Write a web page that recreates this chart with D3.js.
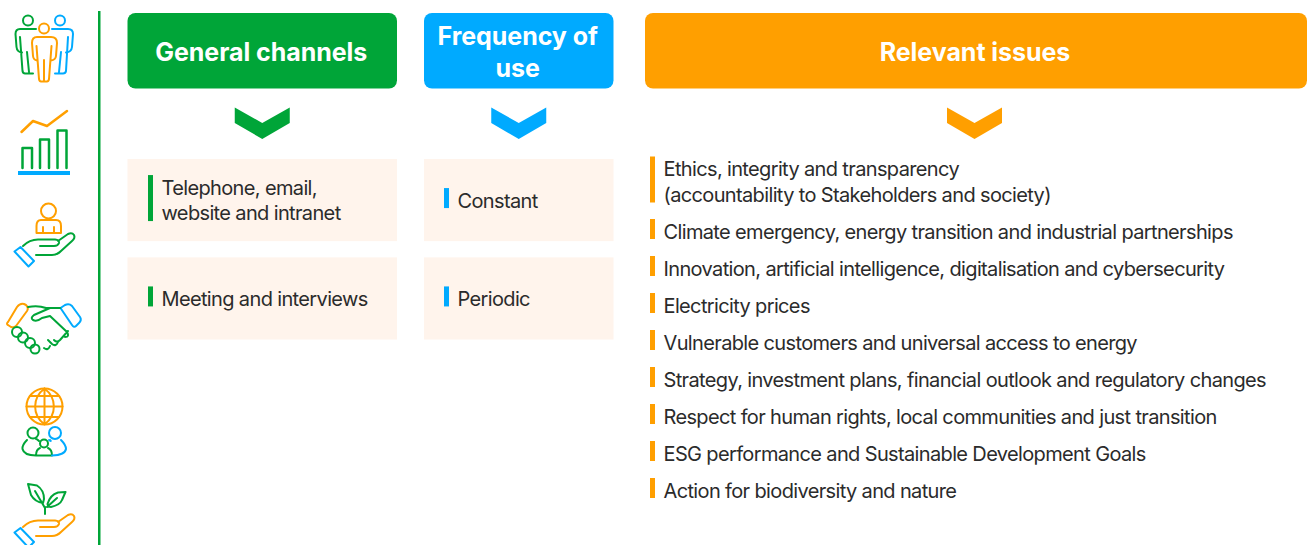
<!DOCTYPE html>
<html>
<head>
<meta charset="utf-8">
<script src="https://cdn.jsdelivr.net/npm/d3@7"></script>
<style>
  html, body { margin: 0; padding: 0; background: #fff; }
  svg { display: block; }
  text { font-family: Inter, "Noto Sans", sans-serif; }
</style>
</head>
<body>
<script>

// Content
var headers = [["General channels"], ["Frequency of", "use"], ["Relevant issues"]];
var channels = [["Telephone, email,", "website and intranet"], ["Meeting and interviews"]];
var frequencies = [["Constant"], ["Periodic"]];
var issues = [
    ["Ethics, integrity and transparency", "(accountability to Stakeholders and society)"],
    ["Climate emergency, energy transition and industrial partnerships"],
    ["Innovation, artificial intelligence, digitalisation and cybersecurity"],
    ["Electricity prices"],
    ["Vulnerable customers and universal access to energy"],
    ["Strategy, investment plans, financial outlook and regulatory changes"],
    ["Respect for human rights, local communities and just transition"],
    ["ESG performance and Sustainable Development Goals"],
    ["Action for biodiversity and nature"]
];

var green = "#00A538", blue = "#00AAFF", orange = "#FF9F00";
var width = 1311, height = 545;

var svg = d3.select("body").append("svg").attr("width", width).attr("height", height);

var columns = [
    {x: 127.5, w: 269.5, color: green},
    {x: 424, w: 189.5, color: blue},
    {x: 645, w: 662, color: orange}
];

// Header boxes
var head = svg.selectAll(".head").data(columns).enter().append("g").attr("class", "head");
head.append("rect")
    .attr("x", function (d) { return d.x; })
    .attr("y", 13).attr("width", function (d) { return d.w; })
    .attr("height", 75.5).attr("rx", 8)
    .attr("fill", function (d) { return d.color; });

head.each(function (d, i) {
    var lines = headers[i];
    d3.select(this).selectAll("text").data(lines).enter().append("text")
        .attr("x", d.x + d.w / 2 - 1)
        .attr("y", function (_, j) { return 52 + (j - (lines.length - 1) / 2) * 32 + 9; })
        .attr("text-anchor", "middle")
        .attr("fill", "#fff")
        .attr("font-size", 25)
        .attr("font-weight", 700)
        .attr("letter-spacing", -0.05)
        .text(function (t) { return t; });
});

// Chevrons under the headers
head.append("path")
    .attr("d", "M-27.5,-16.5L0,-1L27.5,-16.5V-1L0,15L-27.5,-1Z")
    .attr("transform", function (d, i) { return "translate(" + (d.x + d.w / 2 + (i === 2 ? -1.5 : 0)) + ",124)"; })
    .attr("fill", function (d) { return d.color; });

// Small tables, cells are the same height in both columns
var rowY = d3.scaleBand().domain([0, 1]).range([159, 339.5]).paddingInner(0.165);

function cells (col, rows, barX, textX) {
    var g = svg.selectAll(null).data(rows).enter().append("g");
    g.append("rect")
        .attr("x", col.x).attr("y", function (d, i) { return rowY(i); })
        .attr("width", col.w).attr("height", rowY.bandwidth())
        .attr("fill", "#FFF4EC");
    g.each(function (lines, i) {
        var cy = rowY(i) + rowY.bandwidth() / 2 - 2;
        addItem(d3.select(this), lines, cy, barX, textX, col.color);
    });
}

function addItem (g, lines, cy, barX, textX, color) {
    var half = lines.length > 1 ? 23 : 10;
    g.append("rect")
        .attr("x", barX).attr("y", cy - half)
        .attr("width", 5).attr("height", half * 2)
        .attr("fill", color);
    g.selectAll("text").data(lines).enter().append("text")
        .attr("x", textX)
        .attr("y", function (_, j) { return cy + 9.5 + (j - (lines.length - 1) / 2) * 25.5; })
        .attr("fill", "#2B2B2B")
        .attr("font-size", 20)
        .attr("letter-spacing", -0.64)
        .text(function (t) { return t; });
}

cells(columns[0], channels, 148, 161.5);
cells(columns[1], frequencies, 444, 457.5);

// Issue list, one row every 37px after the two line first item
var issueY = d3.scaleLinear().domain([1, 8]).range([229, 488]);
issues.forEach(function (lines, i) {
    addItem(svg.append("g"), lines, i === 0 ? 179.5 : issueY(i), 650, 663.5, orange);
});

// Divider
svg.append("rect").attr("x", 98).attr("y", 11).attr("width", 2.5).attr("height", 534).attr("fill", green);

// Icons
var icons = svg.append("g").attr("fill", "none").attr("stroke-width", 2)
    .attr("stroke-linecap", "round").attr("stroke-linejoin", "round");

function stroke (color, d, w) {
    return icons.append("path").attr("d", d).attr("stroke", color).attr("stroke-width", w || 2);
}
function ring (color, cx, cy, r) {
    return icons.append("circle").attr("cx", cx).attr("cy", cy).attr("r", r).attr("stroke", color);
}

// people
ring(green, 28, 20.5, 5);
ring(blue, 60, 20.5, 5);
ring(orange, 44, 28.5, 5);
stroke(green, "M36,29H20Q15.5,29 15.5,34L16.5,47Q17,52 22,52.5M20,37L22.5,71Q23,73.5 25,73.5H33M27,52L29,72");
stroke(blue, "M52,29H68Q73,29 73,34L72,47Q71.5,52 66,52.5M68,37L66,71Q65.5,73.5 63,73.5H55M61,52L59,72");
stroke(orange, "M37,37H51Q57,37 57,43L56,56Q55.5,60 51,60.5M37,37Q32,37 32,43L33,56Q33.5,60 37,60.5M36.5,46L39,79Q39.5,81.5 41,81.5H47Q48.5,81.5 49,79L51.5,46M44,60V80");

// growth
stroke(orange, "M21.5,132L33,121L47,126L67,111", 2.5);
stroke(green, "M22.5,168V148H32V168M40,168V139.5H49V168M57.5,168V130.5H66.5V168", 2.5);
icons.append("rect").attr("x", 18).attr("y", 171).attr("width", 52).attr("height", 4).attr("fill", blue);

// hand shared by the person and plant icons
function hand (dy, color) {
    var g = "translate(0," + dy + ")";
    stroke(color, "M23,246C28,241 32,239.5 38,239.5H55Q59.5,240 59,243Q58,246 54,246H40M58,241L68,234Q72,232 74,235Q75.5,238 72,241L61,251Q57,255 52,255H36", 2).attr("transform", g);
    stroke(blue, "M14.5,251.5L20.5,247L34,261L28.5,266.5Z", 2).attr("transform", g);
}

// person in hand
ring(orange, 48.5, 211, 7.5);
stroke(orange, "M41,220H56Q61,220 61,226V233H36.5V226Q36.5,220 41,220M43,227V233M54,227V233");
hand(0, green);

// handshake
stroke(orange, "M8,322L17,307Q20,303 24,304L26,305Q29,308 27,311L16,326Q14,328 11,327L8,325Q6,324 8,322Z");
stroke(blue, "M60.5,308L65,305Q69,303 72,306L80,317Q82,320 79,323L76,326Q74,328 72,325Z");
stroke(green, "M28,307Q38,305 46,308H60M50,308L34,315Q30,318 33,320Q37,322 42,318L50,316L67,332M67,332Q70,337 65,337M68,331L60,340Q57,343 54,340M58,342Q56,347 52,344L48,340M50,346Q48,351 44,348");
[[17, 332, 5], [23, 337.5, 5], [30, 343, 5], [35, 349, 4.5]].forEach(function (k) { ring(green, k[0], k[1], k[2]); });

// globe and people
ring(orange, 44.5, 406.5, 18);
stroke(orange, "M26.5,406.5H62.5M30,396H59M30,417H59M44.5,388.5V424.5M44.5,388.5C32,398 32,415 44.5,424.5M44.5,388.5C57,398 57,415 44.5,424.5");
ring(green, 33, 433, 5.5);
ring(blue, 55, 433, 6);
ring(green, 44, 443.5, 4);
stroke(green, "M27,440Q22,445 22.5,449Q24,455.5 36,455.5H52M39,441Q37,439 36,439M36,455.5Q36,449.5 40,448M48,448Q52,449.5 52,455.5");
stroke(blue, "M49,440Q52,442 50,440M61,440Q66,445 66,449Q65,455 52,455.5");

// plant
stroke(green, "M28,484L37,485.5Q44,490 44,499L43,503Q35,502 31,495Z M35,491L45,508");
stroke(green, "M65.5,492L58,492.5Q50,495 47.5,504Q48,507 51,507Q60,505 62,500Z M57,498L47,507M45,507V514");
hand(281, orange);

</script>
</body>
</html>
